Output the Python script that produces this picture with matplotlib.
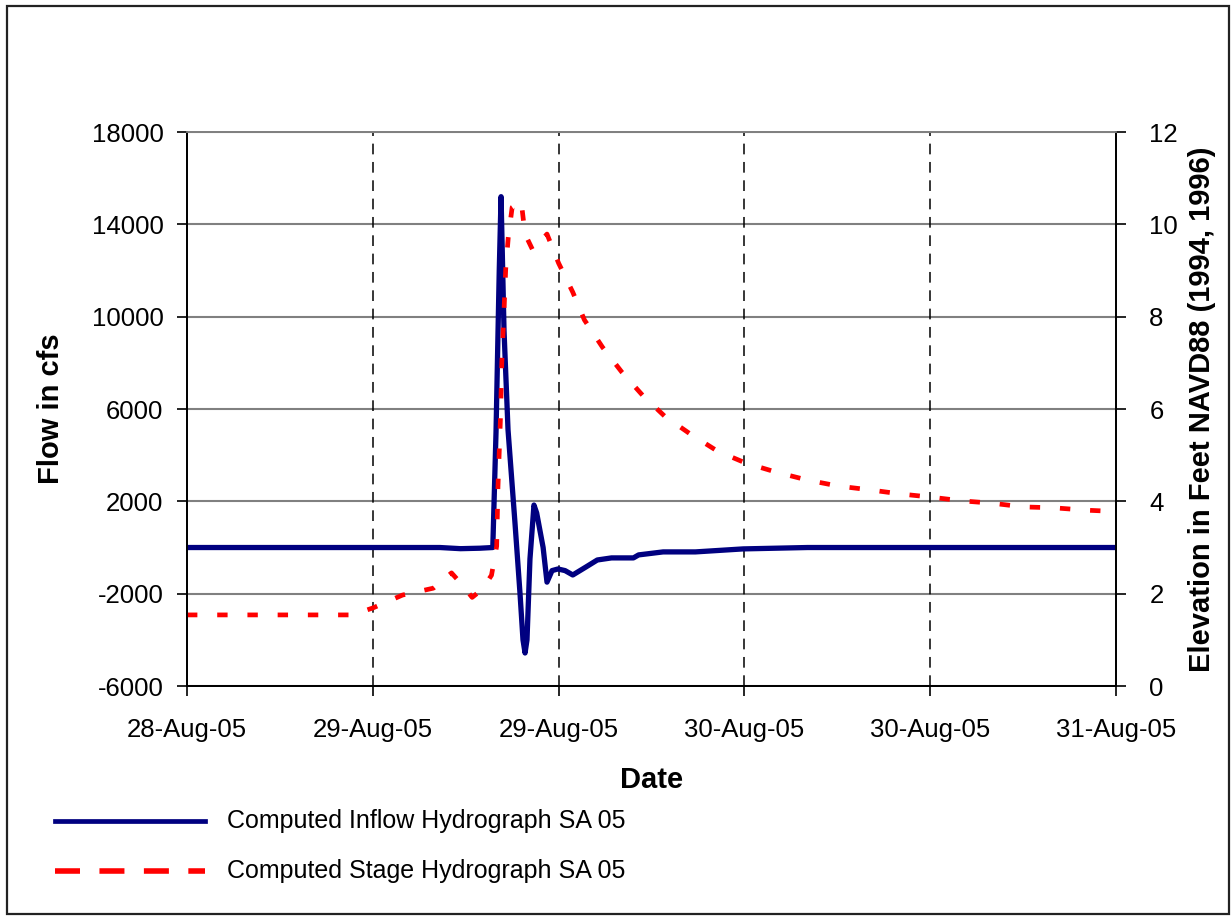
import matplotlib
matplotlib.use('Agg')
import matplotlib.pyplot as plt
from matplotlib.lines import Line2D
from matplotlib.patches import Rectangle

plt.rcParams['font.family'] = ['Liberation Sans', 'DejaVu Sans']
plt.rcParams['axes.unicode_minus'] = False

# hours from start of chart window
flow_hours = [0, 19.6, 21.2, 22.7, 23.7, 23.95, 24.2, 24.34, 24.57, 24.88, 25.42, 25.81,
              26.04, 26.2, 26.35, 26.58, 26.89, 27.1, 27.6, 27.9, 28.29, 28.75, 29.3,
              29.9, 30.9, 31.8, 32.9, 34.6, 35.0, 36.9, 39.4, 43.1, 48.1, 72]
flow_cfs = [0, 0, -50, -30, 0, 5000, 12000, 15200, 9400, 5100, 1060, -2000,
            -4000, -4570, -4000, -500, 1840, 1500, 0, -1500, -1000, -930, -1000,
            -1190, -850, -540, -450, -450, -320, -190, -190, -60, 0, 0]

stage_hours = [0, 12.8, 14.4, 16.7, 19.1, 20.5, 21.3, 22.1, 22.9, 23.6, 24.0, 24.1,
               24.3, 24.4, 24.6, 24.7, 24.9, 25.2, 25.9, 26.2, 26.8, 27.9, 28.8,
               29.9, 30.8, 32.2, 33.7, 35.3, 37.0, 39.0, 41.1, 43.3, 45.7, 48.1,
               50.5, 52.9, 55.3, 57.7, 60.1, 62.4, 64.8, 67.2, 69.6, 72]
stage_ft = [1.54, 1.54, 1.69, 1.97, 2.12, 2.45, 2.2, 1.92, 2.1, 2.4, 3.03, 4.31,
            5.85, 7.02, 8.34, 9.03, 9.72, 10.37, 10.5, 9.79, 9.44, 9.79, 9.16,
            8.53, 7.93, 7.34, 6.80, 6.30, 5.85, 5.46, 5.09, 4.83, 4.63, 4.46,
            4.33, 4.25, 4.16, 4.09, 4.01, 3.96, 3.88, 3.86, 3.81, 3.78]

x_ticks = [0, 14.4, 28.8, 43.2, 57.6, 72]
x_labels = ['28-Aug-05', '29-Aug-05', '29-Aug-05', '30-Aug-05', '30-Aug-05', '31-Aug-05']
flow_ticks = [-6000, -2000, 2000, 6000, 10000, 14000, 18000]
stage_ticks = [0, 2, 4, 6, 8, 10, 12]

blue = '#000080'
red = '#ff0000'

fig = plt.figure(figsize=(12.31, 9.17), dpi=100)
ax = fig.add_axes([0.1519, 0.2519, 0.7547, 0.6041])
ax2 = ax.twinx()

# gridlines
for v in flow_ticks:
    ax.axhline(v, color='#808080', lw=1.5, zorder=0)
for v in x_ticks[1:-1]:
    ax.axvline(v, color='black', lw=1.1, ls=(0, (7, 5)), zorder=0)

ax.plot(flow_hours, flow_cfs, color=blue, lw=3.8, zorder=3, solid_joinstyle='round')
ax2.plot(stage_hours, stage_ft, color=red, lw=3.4, dashes=(2.2, 4.2),
         dash_capstyle='butt', zorder=2)

ax.set_xlim(0, 72)
ax.set_ylim(-6000, 18000)
ax2.set_ylim(0, 12)
ax.set_xticks(x_ticks)
ax.set_xticklabels(x_labels)
ax.set_yticks(flow_ticks)
ax2.set_yticks(stage_ticks)

ax.tick_params(axis='x', labelsize=18.5, length=7, width=1.2, direction='out', pad=16)
ax.tick_params(axis='y', labelsize=18.5, length=7, width=1.2, direction='out', pad=10)
ax2.tick_params(labelsize=18.5, length=7, width=1.2, direction='out', pad=17)

for a in (ax, ax2):
    a.spines['top'].set_color('#808080')
    for s in ('left', 'right', 'bottom'):
        a.spines[s].set_color('black')
    for s in a.spines.values():
        s.set_linewidth(1.3)

ax.set_xlabel('Date', fontsize=21, fontweight='bold', labelpad=17)
ax.set_ylabel('Flow in cfs', fontsize=21, fontweight='bold', labelpad=19)
ax2.set_ylabel('Elevation in Feet NAVD88 (1994, 1996)', fontsize=21, fontweight='bold',
               labelpad=7)

# legend below the plot
leg_y = [(917 - 821) / 917, (917 - 871) / 917]
fig.add_artist(Line2D([55 / 1231, 205 / 1231], [leg_y[0], leg_y[0]],
                      transform=fig.transFigure, color=blue, lw=3.4))
fig.add_artist(Line2D([55 / 1231, 205 / 1231], [leg_y[1], leg_y[1]],
                      transform=fig.transFigure, color=red, lw=4,
                      dashes=(4.5, 3.5), dash_capstyle='butt'))
fig.text(227 / 1231, leg_y[0], 'Computed Inflow Hydrograph SA 05', fontsize=18,
         va='center', ha='left')
fig.text(227 / 1231, leg_y[1], 'Computed Stage Hydrograph SA 05', fontsize=18,
         va='center', ha='left')

# outer border
fig.add_artist(Rectangle((0.006, 0.003), 0.992, 0.99, transform=fig.transFigure,
                         fill=False, edgecolor='#222222', lw=1.6))

fig.savefig('out.png', dpi=100)
